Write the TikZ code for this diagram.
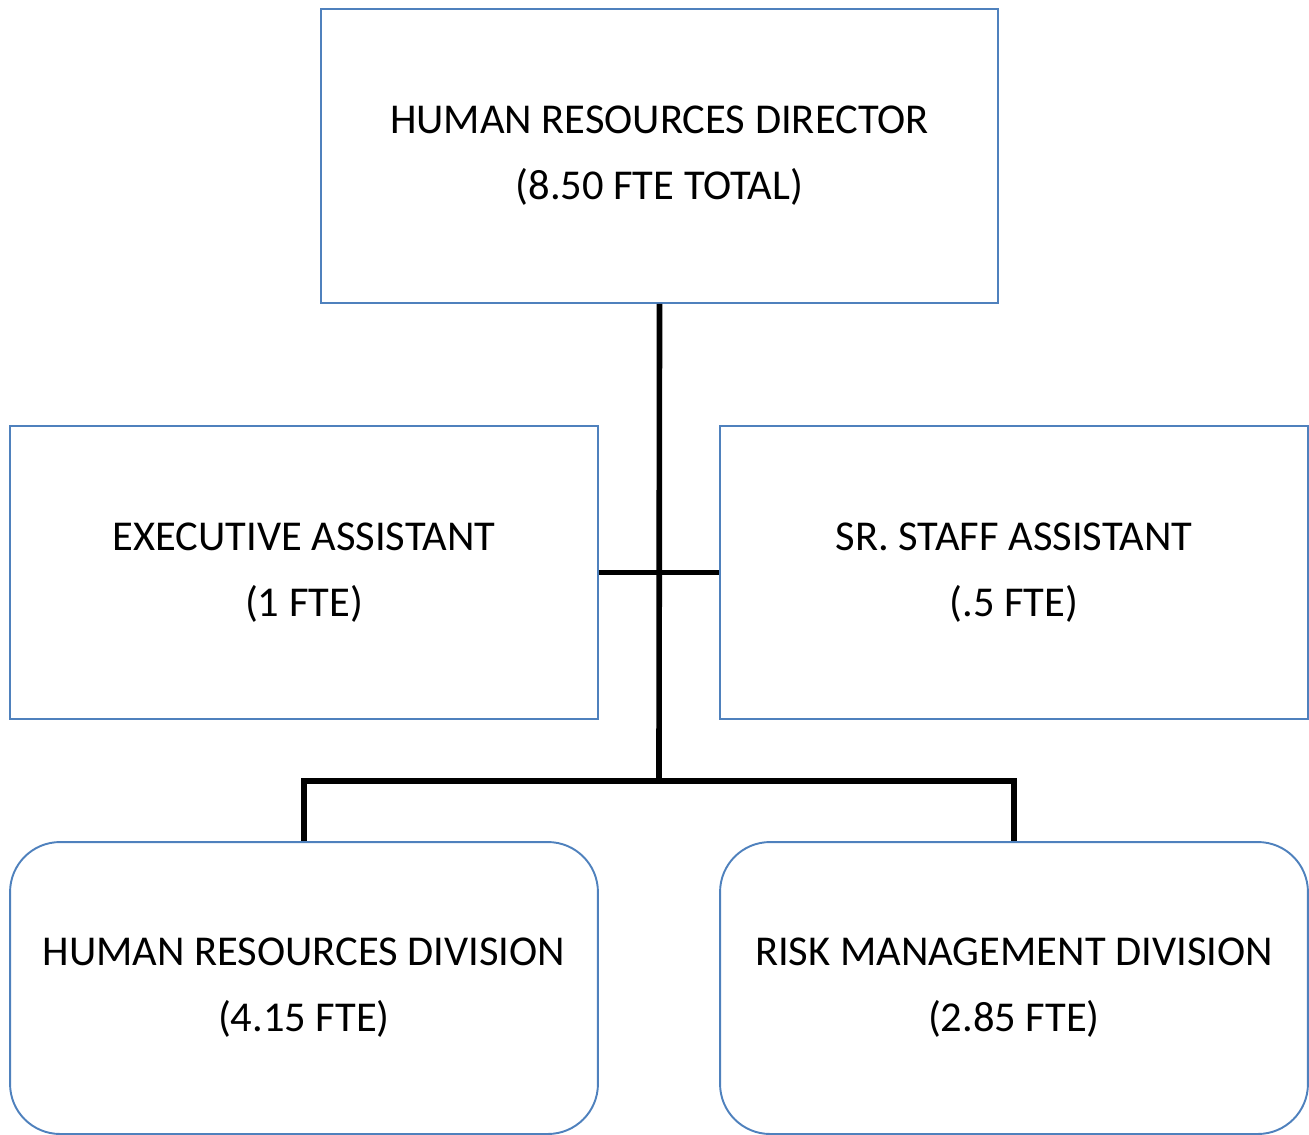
\documentclass[tikz,border=0pt]{standalone}
\usepackage{fontspec}
\setmainfont{Carlito}
\usepackage{tikz}
\usetikzlibrary{positioning}
\definecolor{boxblue}{RGB}{79,129,189}
\tikzset{
    post/.style={draw=boxblue, line width=1.1pt, minimum width=11.76cm, minimum height=5.86cm, align=center,
        font=\fontsize{24.2pt}{37.5pt}\selectfont},
    topbox/.style={post, minimum width=13.54cm, minimum height=5.88cm},
    division/.style={post, rounded corners=1cm, minimum height=5.84cm},
    link/.style={line width=3.2pt},
}
\begin{document}
\begin{tikzpicture}[x=0.02cm,y=-0.02cm]
    \useasboundingbox (0,0) rectangle (1309,1134);
    \node(director)[topbox] at (659.5,156) {HUMAN RESOURCES DIRECTOR\\(8.50 FTE TOTAL)};
    \node(exec)[post] at (304,572.5) {EXECUTIVE ASSISTANT\\(1 FTE)};
    \node(staff)[post] at (1014,572.5) {SR. STAFF ASSISTANT\\(.5 FTE)};
    \node(hrdiv)[division] at (304,988) {HUMAN RESOURCES DIVISION\\(4.15 FTE)};
    \node(riskdiv)[division] at (1014,988) {RISK MANAGEMENT DIVISION\\(2.85 FTE)};
    \coordinate(split) at (659,781);
    \draw[link] (director.south) -- (split);
    \draw[link] (exec.east) -- (staff.west);
    \draw[link] (hrdiv.north) |- (split) -| (riskdiv.north);
\end{tikzpicture}
\end{document}
